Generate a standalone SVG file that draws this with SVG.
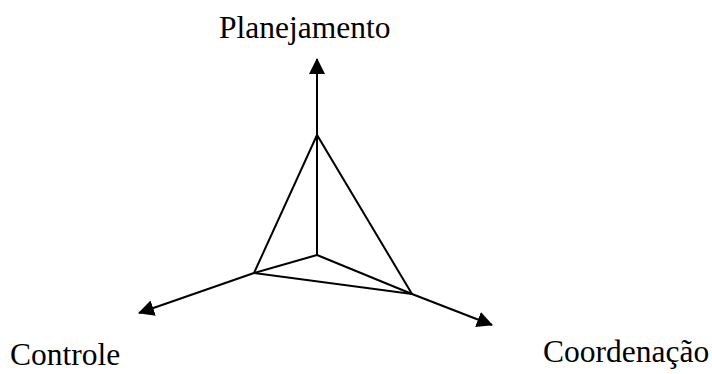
<svg xmlns="http://www.w3.org/2000/svg" width="712" height="374" viewBox="0 0 712 374">
<style>
.ln{fill:none;stroke:#000;stroke-width:2;stroke-linejoin:miter}
.lbl{font-family:"Liberation Serif","Times New Roman",serif;font-size:31.5px;fill:#000}
</style>
<defs>
<marker id="ah" markerWidth="16" markerHeight="16" refX="15" refY="8" orient="auto" markerUnits="userSpaceOnUse">
<path d="M0,0 L16,8 L0,16 Z" fill="#000"/>
</marker>
</defs>
<rect width="712" height="374" fill="#fff"/>
<g id="connectors">
<line class="ln" x1="317" y1="255" x2="317" y2="59" marker-end="url(#ah)"/>
<polyline class="ln" points="317,255 254,273 139,313" marker-end="url(#ah)"/>
<polyline class="ln" points="317,255 412,294 492,325" marker-end="url(#ah)"/>
<polygon class="ln" points="317,135 254,273 412,294"/>
</g>
<g id="planejamento"><text class="lbl" x="219" y="38">Planejamento</text></g>
<g id="controle"><text class="lbl" x="10" y="365">Controle</text></g>
<g id="coordenacao"><text class="lbl" x="543" y="362">Coordenação</text></g>
</svg>
